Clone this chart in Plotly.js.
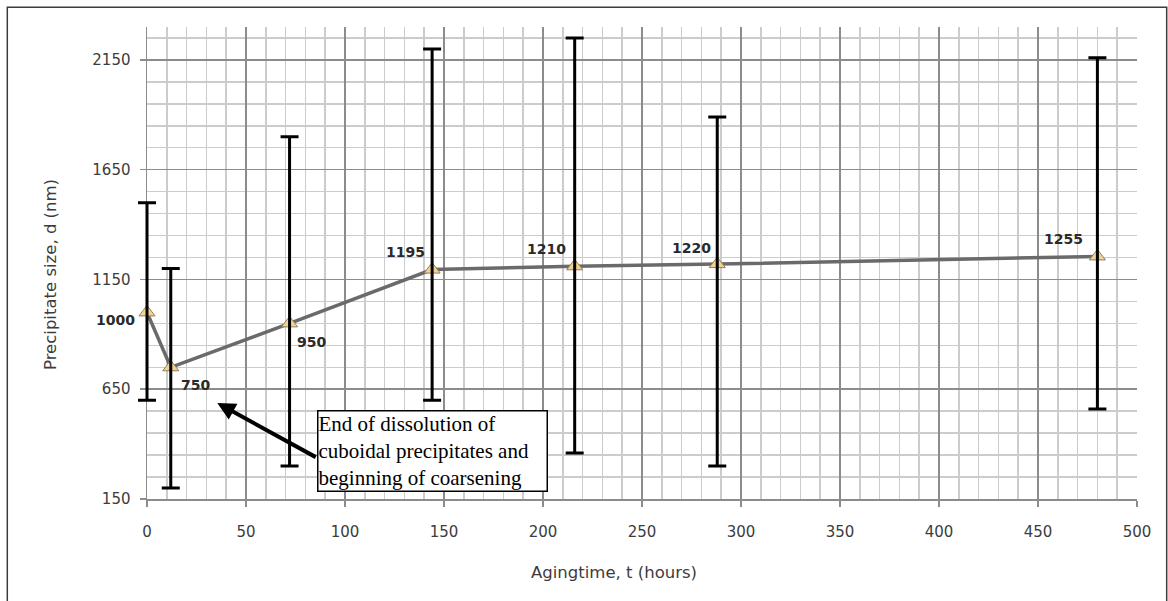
<!DOCTYPE html>
<html>
<head>
<meta charset="utf-8">
<script src="https://cdn.plot.ly/plotly-3.0.1.min.js"></script>
<style>
  html, body { margin: 0; padding: 0; background: #ffffff; }
  #chart { width: 1168px; height: 601px; }
</style>
</head>
<body>
<div id="chart"></div>
<script>
// ---- data ----
const hours     = [0, 12, 72, 144, 216, 288, 480];          // aging time, t (hours)
const sizeNm    = [1000, 750, 950, 1195, 1210, 1220, 1255];  // mean precipitate size, d (nm)
const sizeMax   = [1500, 1200, 1800, 2200, 2250, 1890, 2160]; // top of error bar
const sizeMin   = [600, 200, 300, 600, 360, 300, 560];        // bottom of error bar
const labelText = sizeNm.map(v => String(v));
const noteText  = "End of dissolution of<br>cuboidal precipitates and<br>beginning of coarsening";
const xTitle    = "Agingtime, t (hours)";
const yTitle    = "Precipitate size, d (nm)";

// ---- layout geometry (pixels) ----
const W = 1168, H = 601;
const M = { l: 127, r: 31, t: 27, b: 102 };
const plotW = W - M.l - M.r, plotH = H - M.t - M.b;
const gridLeftPx = 20;                 // x=0 sits 20px inside the paper area
const xMin = 0, xMax = 500, yMin = 150, yMax = 2300;
const pxPerX = (plotW - gridLeftPx) / (xMax - xMin);
const px2paperX = px => (px - M.l) / plotW;
const px2paperY = py => (H - M.b - py) / plotH;

// label offsets in pixels
const labelShift = [[-32, -8], [25, -18], [22, -19], [-27, 18], [-28, 17], [-26, 16], [-34, 17]];

const errPlus  = sizeMax.map((v, i) => v - sizeNm[i]);
const errMinus = sizeNm.map((v, i) => v - sizeMin[i]);

const mainTrace = {
  x: hours, y: sizeNm, type: 'scatter', mode: 'lines+markers',
  xaxis: 'x', yaxis: 'y',
  line: { color: '#6a6a6a', width: 3.5 },
  marker: { symbol: 'triangle-up', size: 14, color: '#f3d38f',
            line: { color: '#8f8162', width: 1 } },
  cliponaxis: false, hoverinfo: 'x+y', showlegend: false
};
// error bars on an invisible overlay subplot that is slightly wider, so the cap at t=0 is not clipped
const errTrace = {
  x: hours, y: sizeNm, type: 'scatter', mode: 'markers',
  xaxis: 'x2', yaxis: 'y2',
  marker: { size: 1, color: 'rgba(0,0,0,0)' },
  error_y: { type: 'data', symmetric: false, array: errPlus, arrayminus: errMinus,
             color: '#000000', thickness: 3, width: 9 },
  cliponaxis: false, hoverinfo: 'skip', showlegend: false
};

const tickFont = { family: 'DejaVu Sans', size: 15, color: '#3c3c3c' };
const titleFont = { family: 'DejaVu Sans', size: 16.5, color: '#3c3c3c' };

const annotations = hours.map((h, i) => ({
  x: h, y: sizeNm[i], xref: 'x', yref: 'y', text: labelText[i],
  showarrow: false, xanchor: 'center', yanchor: 'middle',
  xshift: labelShift[i][0], yshift: labelShift[i][1],
  font: { family: 'DejaVu Sans', size: 14, color: '#2a2a2a', weight: 'bold' }
}));

annotations.push({
  xref: 'paper', yref: 'paper', x: px2paperX(614), y: px2paperY(572), text: xTitle,
  showarrow: false, xanchor: 'center', yanchor: 'middle', font: titleFont
});
annotations.push({
  xref: 'paper', yref: 'paper', x: px2paperX(50), y: px2paperY(275), text: yTitle, textangle: -90,
  showarrow: false, xanchor: 'center', yanchor: 'middle', font: titleFont
});
// arrow
annotations.push({
  xref: 'x', yref: 'y', axref: 'x', ayref: 'y',
  x: 35.5, y: 587, ax: 86, ay: 337, text: '',
  showarrow: true, arrowhead: 2, arrowsize: 0.9, arrowwidth: 4, arrowcolor: '#000000'
});
// note box
annotations.push({
  xref: 'paper', yref: 'paper', x: px2paperX(317), y: px2paperY(410), xanchor: 'left', yanchor: 'top',
  text: noteText, align: 'left', showarrow: false, width: 228,
  font: { family: 'Liberation Serif', size: 21, color: '#000000' },
  bgcolor: '#ffffff', bordercolor: '#000000', borderwidth: 1.5, borderpad: 0
});

const layout = {
  width: W, height: H,
  margin: M,
  paper_bgcolor: '#ffffff', plot_bgcolor: 'rgba(0,0,0,0)',
  font: { family: 'DejaVu Sans' },
  xaxis: {
    domain: [gridLeftPx / plotW, 1], anchor: 'y',
    range: [xMin, xMax], tick0: 0, dtick: 50, tickmode: 'linear',
    showgrid: true, gridcolor: '#8c8c8c', gridwidth: 1.5,
    minor: { tick0: 0, dtick: 10, showgrid: true, gridcolor: '#cccccc', gridwidth: 1.5 },
    showline: true, linecolor: '#8c8c8c', linewidth: 1.5,
    ticks: 'outside', ticklen: 6, tickwidth: 1.5, tickcolor: '#8c8c8c',
    ticklabelstandoff: 12, tickfont: tickFont, zeroline: false, fixedrange: true
  },
  yaxis: {
    domain: [0, 1], anchor: 'x',
    range: [yMin, yMax], tick0: 150, dtick: 500, tickmode: 'linear',
    showgrid: true, gridcolor: '#8c8c8c', gridwidth: 1.5,
    minor: { tick0: 150, dtick: 100, showgrid: true, gridcolor: '#cccccc', gridwidth: 1.5 },
    showline: true, linecolor: '#8c8c8c', linewidth: 1.5,
    ticks: 'outside', ticklen: 6, tickwidth: 1.5, tickcolor: '#8c8c8c',
    ticklabelstandoff: 6, tickfont: tickFont, zeroline: false, fixedrange: true
  },
  xaxis2: {
    domain: [0, 1], anchor: 'y2',
    range: [xMin - gridLeftPx / pxPerX, xMax],
    visible: false, showgrid: false, zeroline: false, fixedrange: true
  },
  yaxis2: {
    domain: [0, 1], anchor: 'x2',
    range: [yMin, yMax],
    visible: false, showgrid: false, zeroline: false, fixedrange: true
  },
  shapes: [{
    type: 'rect', xref: 'paper', yref: 'paper',
    x0: px2paperX(7.3), x1: px2paperX(1166.7), y0: px2paperY(610), y1: px2paperY(7.3),
    line: { color: '#3c3c3c', width: 1.5 }, fillcolor: 'rgba(0,0,0,0)', layer: 'above'
  }],
  annotations: annotations
};

Plotly.newPlot('chart', [mainTrace, errTrace], layout, { displayModeBar: false, staticPlot: true });
</script>
</body>
</html>
